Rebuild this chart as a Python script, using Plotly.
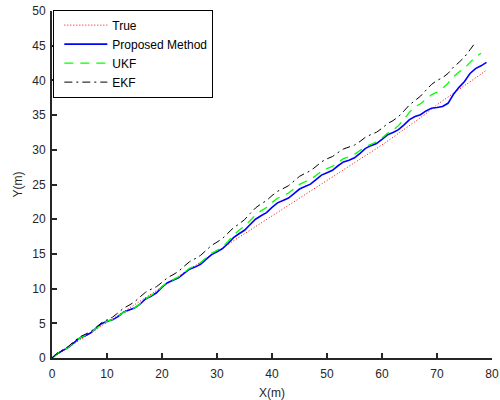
import plotly.graph_objects as go

# ---- data ----
x_true = [0, 2, 4, 6, 8, 10, 12, 14, 16, 18, 20, 22, 24, 26, 28, 30, 32, 34, 36, 38,
          40, 42, 44, 46, 48, 50, 52, 54, 56, 58, 60, 62, 64, 66, 68, 70, 72, 74, 76, 78, 79]
y_true = [0, 1.02, 2.05, 3.05, 4.1, 5.1, 6.1, 7.15, 8.15, 9.2, 10.2, 11.2, 12.25, 13.25, 14.3,
          15.3, 16.3, 17.35, 18.35, 19.4, 20.4, 21.4, 22.45, 23.45, 24.5, 25.5, 26.5, 27.55,
          28.55, 29.6, 30.7, 31.8, 32.9, 34.0, 35.2, 36.5, 37.6, 38.6, 39.7, 40.9, 41.5]

x_prop = [0, 1, 2, 3, 4, 5, 6, 7, 8, 9, 10, 11, 12, 13, 14, 15, 16, 17, 18, 19,
          20, 21, 22, 23, 24, 25, 26, 27, 28, 29, 30, 31, 32, 33, 34, 35, 36, 37, 38, 39,
          40, 41, 42, 43, 44, 45, 46, 47, 48, 49, 50, 51, 52, 53, 54, 55, 56, 57, 58, 59,
          60, 61, 62, 63, 64, 65, 66, 67, 68, 69, 70, 71, 72, 73, 74, 75, 76, 77, 78, 79]
y_prop = [0, 0.65, 1.1, 1.55, 2.2, 2.85, 3.2, 3.6, 4.3, 4.95,
          5.3, 5.5, 5.95, 6.6, 6.9, 7.2, 7.75, 8.5, 8.9, 9.4,
          10.2, 10.85, 11.2, 11.55, 12.2, 12.8, 13.1, 13.5, 14.2, 14.9,
          15.3, 15.75, 16.5, 17.35, 17.9, 18.4, 19.2, 20.0, 20.5, 20.95,
          21.7, 22.35, 22.7, 23.05, 23.7, 24.35, 24.7, 25.05, 25.7, 26.35,
          26.7, 27.05, 27.7, 28.25, 28.5, 28.85, 29.5, 30.2, 30.6, 30.9,
          31.5, 32.15, 32.5, 32.9, 33.6, 34.35, 34.8, 35.05, 35.6, 36.0,
          36.1, 36.25, 36.7, 38.0, 39.0, 39.85, 41.0, 41.7, 42.1, 42.6]

x_ukf = [0, 1, 2, 3, 4, 5, 6, 7, 8, 9, 10, 11, 12, 13, 14, 15, 16, 17, 18, 19,
         20, 21, 22, 23, 24, 25, 26, 27, 28, 29, 30, 31, 32, 33, 34, 35, 36, 37, 38, 39,
         40, 41, 42, 43, 44, 45, 46, 47, 48, 49, 50, 51, 52, 53, 54, 55, 56, 57, 58, 59,
         60, 61, 62, 63, 64, 65, 66, 67, 68, 69, 70, 71, 72, 73, 74, 75, 76, 77, 78]
y_ukf = [0, 0.67, 1.1, 1.55, 2.25, 2.87, 3.25, 3.65, 4.3, 4.92,
         5.3, 5.53, 6.0, 6.57, 6.9, 7.23, 7.8, 8.52, 9.0, 9.53,
         10.3, 10.92, 11.3, 11.68, 12.3, 12.92, 13.3, 13.73, 14.4, 15.07,
         15.5, 16.03, 16.8, 17.72, 18.4, 18.98, 19.8, 20.62, 21.2, 21.68,
         22.4, 23.02, 23.4, 23.78, 24.4, 25.02, 25.4, 25.73, 26.3, 26.92,
         27.3, 27.63, 28.2, 28.72, 29.0, 29.33, 29.9, 30.47, 30.8, 31.13,
         31.7, 32.37, 32.8, 33.48, 34.4, 35.42, 36.2, 36.63, 37.3, 37.92,
         38.3, 38.83, 39.6, 40.52, 41.2, 41.78, 42.6, 43.37, 43.9]

x_ekf = [0, 1, 2, 3, 4, 5, 6, 7, 8, 9, 10, 11, 12, 13, 14, 15, 16, 17, 18, 19,
         20, 21, 22, 23, 24, 25, 26, 27, 28, 29, 30, 31, 32, 33, 34, 35, 36, 37, 38, 39,
         40, 41, 42, 43, 44, 45, 46, 47, 48, 49, 50, 51, 52, 53, 54, 55, 56, 57, 58, 59,
         60, 61, 62, 63, 64, 65, 66, 67, 68, 69, 70, 71, 72, 73, 74, 75, 76, 77]
y_ekf = [0, 0.72, 1.2, 1.68, 2.4, 3.02, 3.4, 3.78, 4.4, 5.07,
         5.5, 5.88, 6.5, 7.17, 7.6, 8.08, 8.8, 9.47, 9.9, 10.28,
         10.9, 11.57, 12.0, 12.48, 13.2, 13.87, 14.3, 14.78, 15.5, 16.22,
         16.7, 17.23, 18.0, 18.77, 19.3, 19.93, 20.8, 21.62, 22.2, 22.68,
         23.4, 24.02, 24.4, 24.83, 25.5, 26.17, 26.6, 26.98, 27.6, 28.27,
         28.7, 29.03, 29.6, 30.12, 30.4, 30.68, 31.2, 31.82, 32.2, 32.53,
         33.1, 33.77, 34.2, 34.78, 35.6, 36.47, 37.1, 37.73, 38.6, 39.42,
         40.0, 40.38, 41.0, 41.92, 42.6, 43.38, 44.4, 45.5]

x_ticks = [0, 10, 20, 30, 40, 50, 60, 70, 80]
y_ticks = [0, 5, 10, 15, 20, 25, 30, 35, 40, 45, 50]

FONT = "Liberation Sans, Arial, sans-serif"
AX = "#262626"

fig = go.Figure()
fig.add_trace(go.Scatter(x=x_true, y=y_true, mode="lines", name="True",
                         line=dict(color="#FF0000", width=1, dash="1px,2px")))
fig.add_trace(go.Scatter(x=x_prop, y=y_prop, mode="lines", name="Proposed Method",
                         line=dict(color="#0000FF", width=1.6)))
fig.add_trace(go.Scatter(x=x_ukf, y=y_ukf, mode="lines", name="UKF",
                         line=dict(color="#00FF00", width=1.3, dash="9px,7px")))
fig.add_trace(go.Scatter(x=x_ekf, y=y_ekf, mode="lines", name="EKF",
                         line=dict(color="#000000", width=1, dash="8px,4px,2px,4px")))

axis_common = dict(showgrid=False, zeroline=False, showline=True, linecolor=AX,
                   linewidth=2, ticks="inside", ticklen=5, tickwidth=1.5, tickcolor=AX,
                   tickfont=dict(family=FONT, size=12, color=AX), mirror=False,
                   automargin=False)

fig.update_xaxes(range=[0, 80], tickvals=x_ticks, ticklabelstandoff=4, **axis_common,
                 title=dict(text="X(m)", font=dict(family=FONT, size=12, color=AX), standoff=8))
fig.update_yaxes(range=[0, 50], tickvals=y_ticks, ticklabelstandoff=2, **axis_common,
                 title=dict(text="Y(m)", font=dict(family=FONT, size=12, color=AX), standoff=7))

fig.update_layout(
    width=500, height=400,
    margin=dict(l=52, r=8, t=11, b=42),
    paper_bgcolor="white", plot_bgcolor="white",
    font=dict(family=FONT, size=12, color="#000000"),
    legend=dict(x=0.003, y=1.004, xanchor="left", yanchor="top",
                bgcolor="white", bordercolor="#000000", borderwidth=1,
                font=dict(family=FONT, size=12, color="#000000"),
                itemwidth=43, tracegroupgap=0, indentation=5),
    showlegend=True,
)

fig.write_html("out.html")
